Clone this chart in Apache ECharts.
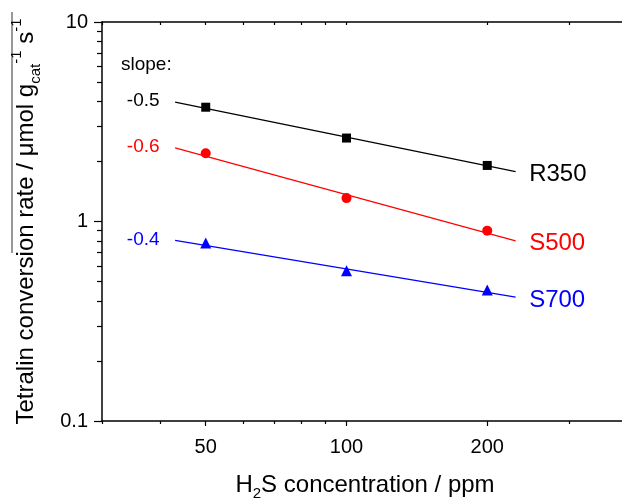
<!DOCTYPE html>
<html>
<head>
<meta charset="utf-8">
<script src="https://cdn.jsdelivr.net/npm/echarts@6/dist/echarts.min.js"></script>
<style>
html,body{margin:0;padding:0;background:#fff;}
#chart{width:622px;height:498px;}
</style>
</head>
<body>
<div id="chart"></div>
<script>
// ---- data ----
const h2s = [50, 100, 200];
const r350 = [3.74, 2.62, 1.91];
const s500 = [2.20, 1.31, 0.90];
const s700 = [0.78, 0.567, 0.453];
const fitX = [43, 230];
const fitR350 = [3.97, 1.78];
const fitS500 = [2.34, 0.80];
const fitS700 = [0.805, 0.418];
const slopes = ['-0.5', '-0.6', '-0.4'];
const names = ['R350', 'S500', 'S700'];
const xMajor = [50, 100, 200];
const xMinor = [30, 40, 60, 70, 80, 90, 300, 400];
const xTop = [30, 40, 50, 60, 70, 80, 90, 100, 200, 300, 400];
const yMajor = [0.1, 1, 10];
const yMinor = [0.2, 0.3, 0.4, 0.5, 0.6, 0.7, 0.8, 0.9, 2, 3, 4, 5, 6, 7, 8, 9];

const FONT = '"Liberation Sans", Arial, sans-serif';
const colors = ['#000000', '#ff0000', '#0000ff'];
const symbols = ['rect', 'circle', 'triangle'];
const symSizes = [9, 10, 11];

const chart = echarts.init(document.getElementById('chart'), null, {renderer: 'canvas'});

function pairs(xs, ys) { return xs.map((x, i) => [x, ys[i]]); }

const pts = [r350, s500, s700];
const fits = [fitR350, fitS500, fitS700];
const series = [];
for (let k = 0; k < 3; k++) {
  const fd = pairs(fitX, fits[k]);
  series.push({
    type: 'line', xAxisIndex: 0, yAxisIndex: 0,
    data: fd.map((d, i) => {
      if (i === 0) return {value: d, label: {show: true, position: 'left', distance: 15, offset: [0, -1], formatter: slopes[k], color: colors[k], fontSize: 19, fontFamily: FONT}};
      return {value: d, label: {show: true, position: 'right', distance: 13, offset: [0, 3], formatter: names[k], color: colors[k], fontSize: 24, fontFamily: FONT}};
    }),
    showSymbol: true, symbol: 'circle', symbolSize: 1,
    itemStyle: {color: 'rgba(0,0,0,0)'},
    lineStyle: {color: colors[k], width: 1.2},
    silent: true, z: 2
  });
  series.push({
    type: 'scatter', xAxisIndex: 0, yAxisIndex: 0,
    data: pairs(h2s, pts[k]),
    symbol: symbols[k], symbolSize: symSizes[k],
    itemStyle: {color: colors[k], opacity: 1}, silent: true, z: 3
  });
}

const base = {type: 'log', min: 30, max: 400, logBase: 10, splitLine: {show: false}, minorTick: {show: false}};
const ybase = {type: 'log', min: 0.1, max: 10, logBase: 10, splitLine: {show: false}, minorTick: {show: false}};
const axisLine = {show: true, onZero: false, lineStyle: {color: '#000', width: 1.5}};

chart.setOption({
  animation: false,
  backgroundColor: '#fff',
  grid: {left: 102, top: 22, right: -6, bottom: 77, containLabel: false, outerBoundsMode: 'none'},
  xAxis: [
    Object.assign({}, base, {
      position: 'bottom', axisLine: axisLine,
      axisTick: {show: true, inside: false, length: 5, lineStyle: {color: '#000', width: 1.2}, customValues: xMajor},
      axisLabel: {show: true, customValues: xMajor, margin: 16, color: '#000', fontSize: 20, fontFamily: FONT, formatter: v => String(Math.round(v))},
      name: '{a|H}{s|2}{a|S concentration / ppm}',
      nameLocation: 'middle', nameGap: 48,
      nameTextStyle: {color: '#000', fontFamily: FONT, rich: {
        a: {fontSize: 24, fontFamily: FONT, color: '#000', lineHeight: 32, verticalAlign: 'middle'},
        s: {fontSize: 15, fontFamily: FONT, color: '#000', lineHeight: 15, verticalAlign: 'bottom'}
      }}
    }),
    Object.assign({}, base, {
      position: 'bottom', axisLine: {show: false},
      axisTick: {show: true, inside: false, length: 3, lineStyle: {color: '#000', width: 1.2}, customValues: xMinor},
      axisLabel: {show: false}
    }),
    Object.assign({}, base, {
      position: 'top', axisLine: axisLine,
      axisTick: {show: true, inside: true, length: 3, lineStyle: {color: '#000', width: 1.2}, customValues: xTop},
      axisLabel: {show: false}
    })
  ],
  yAxis: [
    Object.assign({}, ybase, {
      position: 'left', axisLine: axisLine,
      axisTick: {show: true, inside: false, length: 8, lineStyle: {color: '#000', width: 1.2}, customValues: yMajor},
      axisLabel: {show: true, customValues: yMajor, margin: 14, color: '#000', fontSize: 20, fontFamily: FONT, formatter: v => (v < 1 ? v.toFixed(1) : String(Math.round(v)))},
      name: '{a|Tetralin conversion rate / μmol g}{s|cat}{p|-1}{a| s}{p|-1}',
      nameLocation: 'middle', nameGap: 59, nameRotate: 90,
      nameTextStyle: {color: '#000', fontFamily: FONT, rich: {
        a: {fontSize: 24, fontFamily: FONT, color: '#000', lineHeight: 34, verticalAlign: 'middle'},
        s: {fontSize: 15, fontFamily: FONT, color: '#000', lineHeight: 20, verticalAlign: 'bottom'},
        p: {fontSize: 15, fontFamily: FONT, color: '#000', lineHeight: 14, verticalAlign: 'top'}
      }}
    }),
    Object.assign({}, ybase, {
      position: 'left', axisLine: {show: false},
      axisTick: {show: true, inside: false, length: 5, lineStyle: {color: '#000', width: 1.2}, customValues: yMinor},
      axisLabel: {show: false}
    })
  ],
  graphic: [
    {type: 'text', left: 121, top: 55, style: {text: 'slope:', fill: '#000', font: '19px ' + FONT}},
    {type: 'line', shape: {x1: 12, y1: 12, x2: 12, y2: 253}, style: {stroke: '#333', lineWidth: 1}}
  ],
  series: series
});
</script>
</body>
</html>
